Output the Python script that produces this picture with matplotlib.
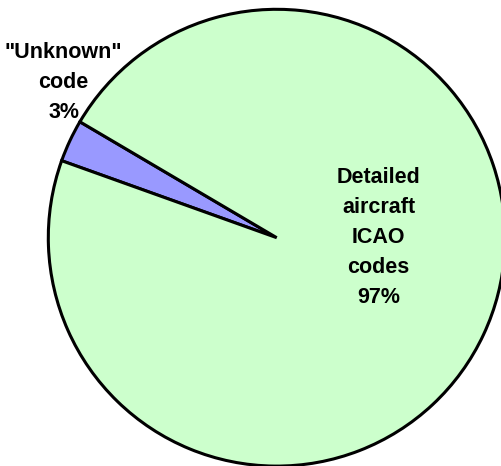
import matplotlib.pyplot as plt

labels = ['"Unknown"\ncode', 'Detailed\naircraft\nICAO\ncodes']
shares = [3, 97]
colors = ['#9999FF', '#CCFFCC']

plt.rcParams['font.family'] = ['Liberation Sans', 'DejaVu Sans']

fig = plt.figure(figsize=(5.02, 4.66), dpi=100)
ax = fig.add_axes([0, 0, 1, 1])

ax.pie(shares, colors=colors, radius=228.4, startangle=149.5, counterclock=True,
       wedgeprops=dict(edgecolor='black', linewidth=2.2))
# pixel-like units around the pie centre
ax.set_xlim(-276.7, 225.3)
ax.set_ylim(-228.3, 237.7)
ax.set_aspect('equal')
ax.axis('off')

label_pos = [(-213, 155), (102, 0)]
for lab, val, (x, y) in zip(labels, shares, label_pos):
    ax.text(x, y, f'{lab}\n{val}%', ha='center', va='center', fontsize=15.5,
            fontweight='bold', linespacing=1.57)

fig.savefig('out.png', dpi=100)
